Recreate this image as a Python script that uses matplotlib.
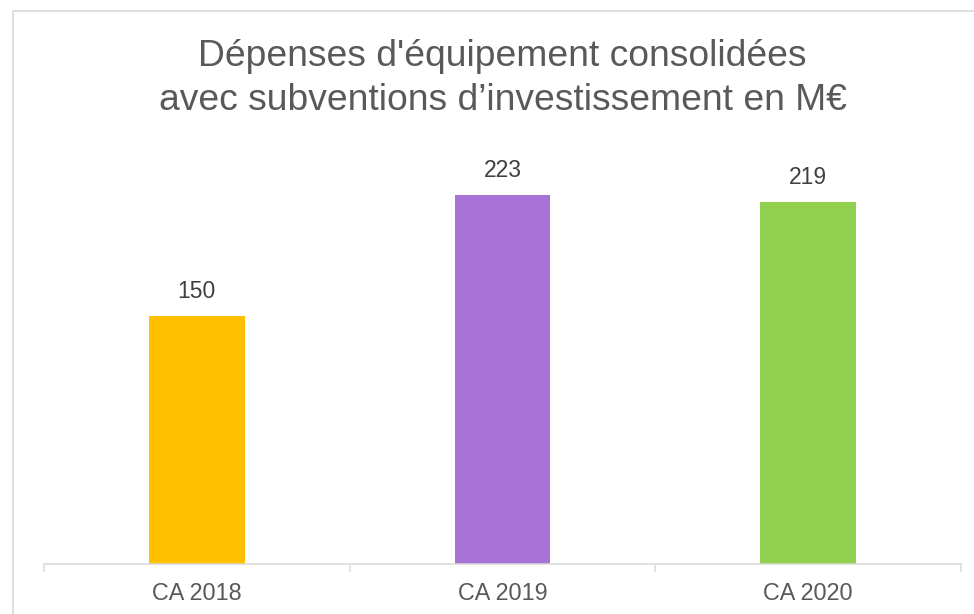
import matplotlib
matplotlib.use("Agg")
import matplotlib.pyplot as plt
from matplotlib.patches import Rectangle

categories = ['CA 2018', 'CA 2019', 'CA 2020']
values = [150, 223, 219]
bar_colors = ['#FFC000', '#A873D6', '#92D050']
title_lines = ["Dépenses d'équipement consolidées", "avec subventions d’investissement en M€"]

plt.rcParams['font.family'] = ['Liberation Sans', 'DejaVu Sans']
TXT = '#595959'
LINE = '#D9D9D9'

W, H = 974, 614
fig = plt.figure(figsize=(W / 100, H / 100), dpi=100, facecolor='white')

# light gray frame (only top/left visible in the reference)
fig.patches.append(Rectangle((13 / W, -0.5), 2, 1 - 11 / H + 0.5, transform=fig.transFigure,
                             fill=False, edgecolor=LINE, linewidth=1.2))

ax = fig.add_axes([44 / W, 1 - 563.5 / H, (961 - 44) / W, (563.5 - 150.3) / H])
x = range(len(categories))
bars = ax.bar(x, values, width=0.314, color=bar_colors)
ax.set_xlim(-0.5, len(categories) - 0.5)
ax.set_ylim(0, 250)

for b, v in zip(bars, values):
    ax.annotate(str(v), (b.get_x() + b.get_width() / 2, v), xytext=(0, 9),
                textcoords='offset points', ha='center', va='bottom',
                fontsize=16.5, color='#404040')

for s in ['top', 'right', 'left']:
    ax.spines[s].set_visible(False)
ax.spines['bottom'].set_color(LINE)
ax.spines['bottom'].set_linewidth(1.1)
ax.set_yticks([])

ax.set_xticks([-0.5, 0.5, 1.5, 2.5])
ax.set_xticklabels([])
ax.tick_params(axis='x', which='major', length=5.8, width=1.1, color=LINE)
ax.set_xticks(list(x), minor=True)
ax.set_xticklabels(categories, minor=True, fontsize=16.8, color=TXT)
ax.tick_params(axis='x', which='minor', length=0, pad=13.5)

cx = (44 + 961) / 2 / W
fig.text(cx, 1 - 66 / H, title_lines[0], ha='center', va='baseline', fontsize=26.8, color=TXT)
fig.text(cx, 1 - 110 / H, title_lines[1], ha='center', va='baseline', fontsize=26.8, color=TXT)

fig.savefig('out.png', dpi=100, facecolor='white')
